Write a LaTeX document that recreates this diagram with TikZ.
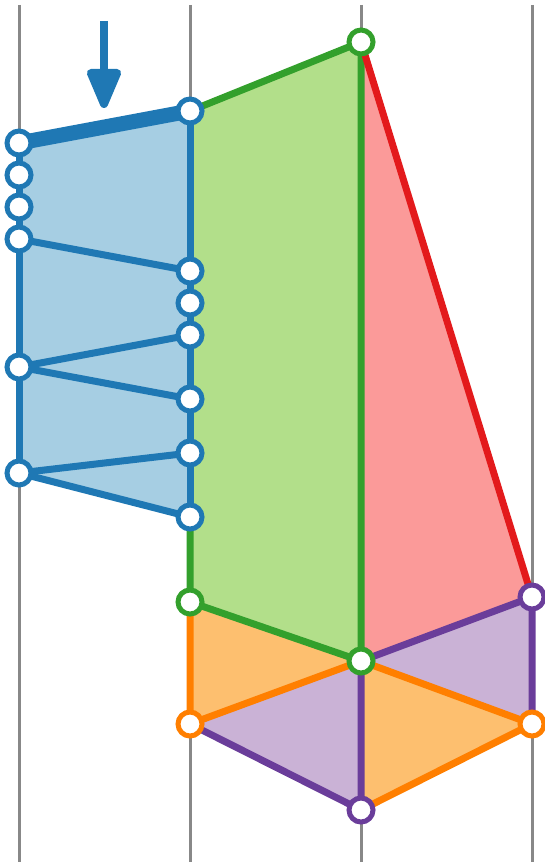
\documentclass[tikz,border=0pt]{standalone}
\usetikzlibrary{arrows.meta}
\definecolor{cblue}{HTML}{1F78B4}
\definecolor{lblue}{HTML}{A6CEE3}
\definecolor{cgreen}{HTML}{33A02C}
\definecolor{lgreen}{HTML}{B2DF8A}
\definecolor{cred}{HTML}{E31A1C}
\definecolor{lred}{HTML}{FB9A99}
\definecolor{corange}{HTML}{FF7F00}
\definecolor{lorange}{HTML}{FDBF6F}
\definecolor{cpurple}{HTML}{6A3D9A}
\definecolor{lpurple}{HTML}{CAB2D6}
\definecolor{cgray}{HTML}{888888}
\tikzset{
  guide/.style={cgray, line width=3pt},
  edge/.style={line width=7pt, line join=round, line cap=round},
  pin/.style={circle, fill=white, draw=#1, line width=5pt, minimum size=24pt, inner sep=0pt},
}
\begin{document}
\begin{tikzpicture}[x=1pt,y=-1pt]
\useasboundingbox (0,0) rectangle (544,864);
% guides
\coordinate (g1t) at (19,5);  \coordinate (g1b) at (19,862);
\coordinate (g2t) at (190,5); \coordinate (g2b) at (190,862);
\coordinate (g3t) at (361,5); \coordinate (g3b) at (361,862);
\coordinate (g4t) at (532,5); \coordinate (g4b) at (532,862);
\draw[guide] (g1t) -- (g1b);
\draw[guide] (g2t) -- (g2b);
\draw[guide] (g3t) -- (g3b);
\draw[guide] (g4t) -- (g4b);
% points
\coordinate (L1) at (19,143);
\coordinate (L2) at (19,175);
\coordinate (L3) at (19,207);
\coordinate (L4) at (19,239);
\coordinate (L5) at (19,367);
\coordinate (L6) at (19,473);
\coordinate (R1) at (190,111);
\coordinate (R2) at (190,271);
\coordinate (R3) at (190,303);
\coordinate (R4) at (190,335);
\coordinate (R5) at (190,399);
\coordinate (R6) at (190,453);
\coordinate (R7) at (190,517);
\coordinate (G1) at (361,42);
\coordinate (G2) at (190,602);
\coordinate (C) at (361,661);
\coordinate (P1) at (532,597);
\coordinate (O1) at (190,724);
\coordinate (O2) at (532,724);
\coordinate (P2) at (361,810);
% fills
\fill[lblue] (L1) -- (R1) -- (R7) -- (L6) -- cycle;
\fill[lgreen] (R1) -- (G1) -- (C) -- (G2) -- cycle;
\fill[lred] (G1) -- (P1) -- (C) -- cycle;
\fill[lpurple] (C) -- (P1) -- (O2) -- cycle;
\fill[lorange] (C) -- (O2) -- (P2) -- cycle;
\fill[lpurple] (O1) -- (C) -- (P2) -- cycle;
\fill[lorange] (G2) -- (C) -- (O1) -- cycle;
% blue edges
\draw[edge, cblue] (L1) -- (L6);
\draw[edge, cblue] (R1) -- (R7);
\draw[edge, cblue] (L4) -- (R2);
\draw[edge, cblue] (L5) -- (R4);
\draw[edge, cblue] (L5) -- (R5);
\draw[edge, cblue] (L6) -- (R6);
\draw[edge, cblue] (L6) -- (R7);
\draw[cblue, line width=15pt] (L1) -- (R1);
% green edges
\draw[edge, cgreen] (R1) -- (G1) -- (C) -- (G2) -- (R7);
% red edge
\draw[edge, cred] (G1) -- (P1);
% purple edges
\draw[edge, cpurple] (C) -- (P1) -- (O2);
\draw[edge, cpurple] (O1) -- (P2) -- (C);
% orange edges
\draw[edge, corange] (G2) -- (O1) -- (C) -- (O2) -- (P2);
% arrow
\coordinate (a1) at (104,21);
\coordinate (a2) at (104,108);
\draw[cblue, line width=8pt, line join=round, -{Triangle[width=36pt 0, length=46pt 0, round]}] (a1) -- (a2);
% nodes
\foreach \p in {L1,L2,L3,L4,L5,L6,R1,R2,R3,R4,R5,R6,R7}
  \node[pin=cblue] (n\p) at (\p) {};
\foreach \p in {G1,G2,C}
  \node[pin=cgreen] (n\p) at (\p) {};
\foreach \p in {P1,P2}
  \node[pin=cpurple] (n\p) at (\p) {};
\foreach \p in {O1,O2}
  \node[pin=corange] (n\p) at (\p) {};
\end{tikzpicture}
\end{document}
